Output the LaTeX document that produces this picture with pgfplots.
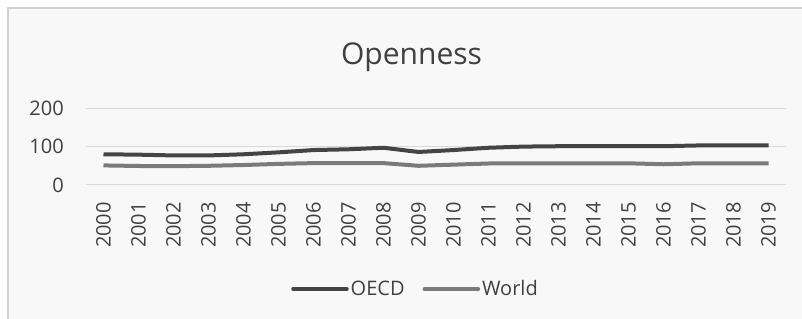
\documentclass[border=0pt]{standalone}
\usepackage{pgfplots}
\pgfplotsset{compat=1.18}
\usepackage{fontspec}
\setmainfont{Open Sans}
\definecolor{bgc}{HTML}{F8F8F8}
\definecolor{framec}{HTML}{D0D0D0}
\definecolor{gridc}{HTML}{D9D9D9}
\definecolor{txtc}{HTML}{404040}
\definecolor{oecdc}{HTML}{444444}
\definecolor{worldc}{HTML}{7A7A7A}
\pgfplotstableread{
x OECD World
0 80 51
1 79 49.5
2 77 49
3 77 50
4 80 52
5 85 55
6 91 57
7 93 57
8 97 57
9 86 50
10 91 53
11 97 56
12 100 56.5
13 101 56.5
14 101 56.5
15 101 56.5
16 101 54
17 103 56.5
18 103 56.5
19 103 56.5
}\datatable
\begin{document}
\begin{tikzpicture}
\fill[white] (0,0) rectangle (802bp,319bp);
\fill[bgc] (8bp,-5bp) rectangle (810bp,311bp);
\draw[framec, line width=1.5bp] (8bp,-5bp) -- (8bp,311bp) -- (810bp,311bp);
\node[anchor=base, font=\fontsize{30bp}{36bp}\selectfont, text=txtc, inner sep=0pt] at (411.5bp,254bp) {Openness};
\begin{axis}[
  at={(86bp,134bp)}, anchor=south west,
  scale only axis, width=700bp, height=76.8bp,
  xmin=-0.5, xmax=19.5, ymin=0, ymax=200,
  axis line style={draw=none},
  major tick length=0pt,
  ytick={0,100,200},
  ymajorgrids, grid style={gridc, line width=1bp},
  xtick={0,...,19},
  xticklabels={2000,2001,2002,2003,2004,2005,2006,2007,2008,2009,2010,2011,2012,2013,2014,2015,2016,2017,2018,2019},
  /pgf/number format/assume math mode=true,
  tick label style={font=\fontsize{20bp}{24bp}\selectfont, text=txtc, inner sep=0pt},
  yticklabel style={anchor=east, xshift=-22bp},
  xticklabel style={yshift=-17bp, rotate=90, anchor=east},
  legend columns=2,
  legend style={at={(0.4707,-1.354)}, anchor=center, draw=none, fill=none,
    font=\fontsize{20bp}{24bp}\selectfont, text=txtc,
    /tikz/every even column/.append style={column sep=16bp}},
  legend image code/.code={\draw[#1, line width=3.5bp, line cap=round] (0bp,0bp) -- (54bp,0bp);},
]
\addplot[oecdc, line width=4bp, line join=round] table[x=x, y=OECD] {\datatable};
\addlegendentry{OECD}
\addplot[worldc, line width=4bp, line join=round] table[x=x, y=World] {\datatable};
\addlegendentry{World}
\end{axis}
\pgfresetboundingbox
\useasboundingbox (0,0) rectangle (802bp,319bp);
\end{tikzpicture}
\end{document}
